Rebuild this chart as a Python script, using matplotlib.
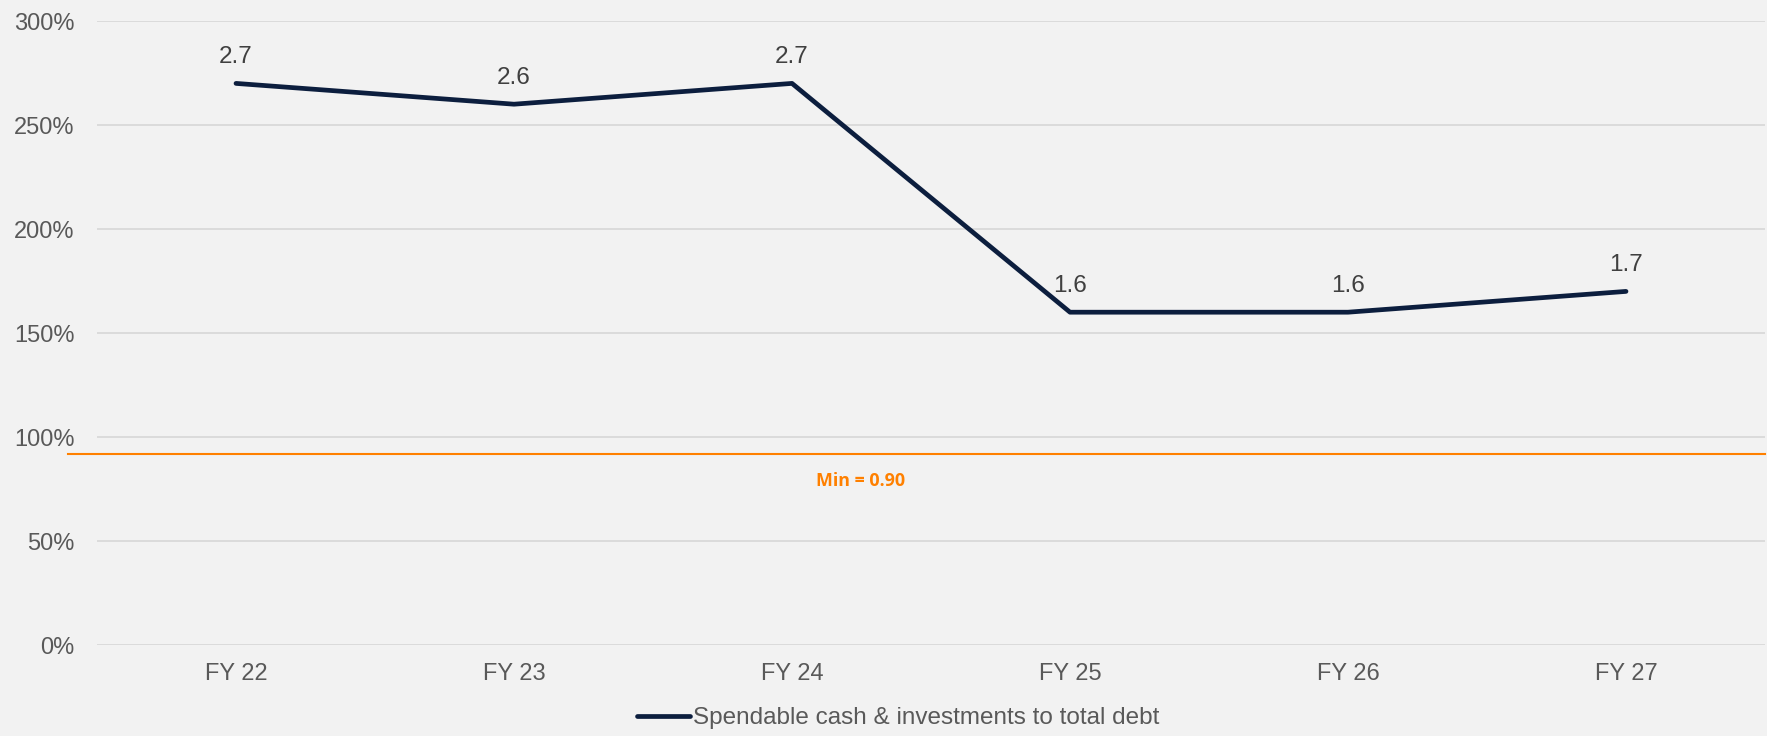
import matplotlib
matplotlib.use("Agg")
import matplotlib.pyplot as plt
from matplotlib.ticker import FuncFormatter

categories = ["FY 22", "FY 23", "FY 24", "FY 25", "FY 26", "FY 27"]
values = [270, 260, 270, 160, 160, 170]
labels = ["2.7", "2.6", "2.7", "1.6", "1.6", "1.7"]
min_value = 92
min_label = "Min = 0.90"
series_name = "Spendable cash & investments to total debt"

plt.rcParams['font.family'] = ['Liberation Sans', 'DejaVu Sans']

W, H = 1767, 736
fig = plt.figure(figsize=(W / 100, H / 100), dpi=100, facecolor="#F2F2F2")
ax = fig.add_axes([97 / W, 1 - 645 / H, 1668 / W, 624 / H], facecolor="#F2F2F2")

x = list(range(len(categories)))
ax.plot(x, values, color="#0C1E3E", lw=3.4, solid_capstyle="round", label=series_name, zorder=3)
for xi, v, lab in zip(x, values, labels):
    ax.annotate(lab, (xi, v), xytext=(0, 11), textcoords="offset points",
                ha="center", va="bottom", fontsize=17.5, color="#404040")

ax.set_xlim(-0.5, len(categories) - 0.5)
ax.set_ylim(0, 300)
ax.set_yticks(range(0, 301, 50))
ax.yaxis.set_major_formatter(FuncFormatter(lambda v, p: f"{int(v)}%"))
ax.set_xticks(x)
ax.set_xticklabels(categories)
ax.grid(axis="y", color="#D9D9D9", lw=1.3)
ax.set_axisbelow(True)
for s in ax.spines.values():
    s.set_visible(False)
ax.tick_params(axis="both", length=0, labelsize=17, colors="#595959")
ax.tick_params(axis="y", pad=16)
ax.tick_params(axis="x", pad=13)

ax.axhline(min_value, xmin=-29 / 1668, xmax=1.0, color="#FF8000", lw=1.5, clip_on=False, zorder=2)
ax.text(2.245, 79, min_label, color="#FF8000", fontsize=12.9, fontweight="bold",
        family=["Open Sans", "DejaVu Sans"], ha="center", va="center")

fig.legend(loc="center", bbox_to_anchor=(898 / W, 18 / H), frameon=False, fontsize=17.5,
           handlelength=2.2, handletextpad=0.1, labelcolor="#595959")

fig.savefig("out.png", dpi=100, facecolor=fig.get_facecolor())
